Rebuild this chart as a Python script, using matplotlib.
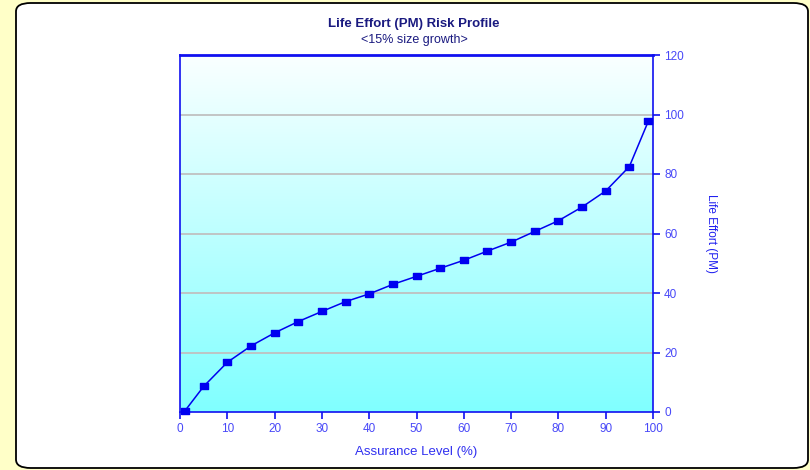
import numpy as np
import matplotlib.pyplot as plt
from matplotlib.patches import FancyBboxPatch
from matplotlib.colors import LinearSegmentedColormap

# assurance level (%) and life effort (PM)
assurance = [1, 5, 10, 15, 20, 25, 30, 35, 40, 45, 50,
             55, 60, 65, 70, 75, 80, 85, 90, 95, 99]
effort = [0.3, 8.6, 16.7, 22.2, 26.6, 30.4, 33.8, 37.1, 39.7, 42.9, 45.6,
          48.3, 51.0, 54.1, 57.1, 60.7, 64.3, 68.9, 74.3, 82.5, 97.7]
xticks = list(range(0, 101, 10))
yticks = list(range(0, 121, 20))

plt.rcParams['font.family'] = ['Liberation Sans', 'DejaVu Sans']

fig = plt.figure(figsize=(8.1, 4.7), dpi=100)
fig.patch.set_facecolor('#FFFFC8')

# white rounded panel behind the chart
panel = FancyBboxPatch((16/810, 2/470), 792/810, 465/470,
                       boxstyle='round,pad=0,rounding_size=0.018',
                       transform=fig.transFigure, facecolor='white',
                       edgecolor='black', linewidth=1.3, zorder=-5)
fig.patches.append(panel)

ax = fig.add_axes([180/810, 1 - 412/470, 473/810, 357/470])
ax.set_xlim(0, 100)
ax.set_ylim(0, 120)

# vertical gradient, white at top to cyan at bottom
cmap = LinearSegmentedColormap.from_list('bg', ['#80FFFF', '#FAFFFF'])
grad = np.linspace(0, 1, 256).reshape(-1, 1)
ax.imshow(grad, cmap=cmap, aspect='auto', origin='lower',
          extent=[0, 100, 0, 120], zorder=0)

for y in yticks[1:-1]:
    ax.axhline(y, color='#C0C0C0', linewidth=1.3, zorder=1)

rect = [(-1.4, -1), (1.4, -1), (1.4, 1), (-1.4, 1), (-1.4, -1)]
ax.plot(assurance, effort, color='#0000F0', linewidth=1.1,
        marker=rect, markersize=5.5, markerfacecolor='#0000F0',
        markeredgecolor='#0000F0', zorder=3, clip_on=False)

for side in ['left', 'right', 'bottom']:
    ax.spines[side].set_color('#1010F0')
    ax.spines[side].set_linewidth(1.2)
ax.spines['top'].set_color('#1010F0')
ax.spines['top'].set_linewidth(2)

ax.yaxis.tick_right()
ax.yaxis.set_label_position('right')
ax.set_xticks(xticks)
ax.set_yticks(yticks)
ax.tick_params(axis='both', direction='out', length=5, width=1.2,
               color='#1010F0', labelcolor='#4848F8', labelsize=8.5, pad=3)

ax.set_xlabel('Assurance Level (%)', color='#3030F0', fontsize=9.5, labelpad=8)
ax.set_ylabel('Life Effort (PM)', color='#2020F0', fontsize=8.5,
              rotation=-90, labelpad=24)

fig.text(414/810, 1 - 24/470, 'Life Effort (PM) Risk Profile', ha='center',
         va='center', color='#1A1A80', fontsize=9.5, fontweight='bold')
fig.text(414/810, 1 - 40/470, '<15% size growth>', ha='center',
         va='center', color='#1A1A80', fontsize=9)

fig.savefig('out.png', dpi=100, facecolor=fig.get_facecolor())
